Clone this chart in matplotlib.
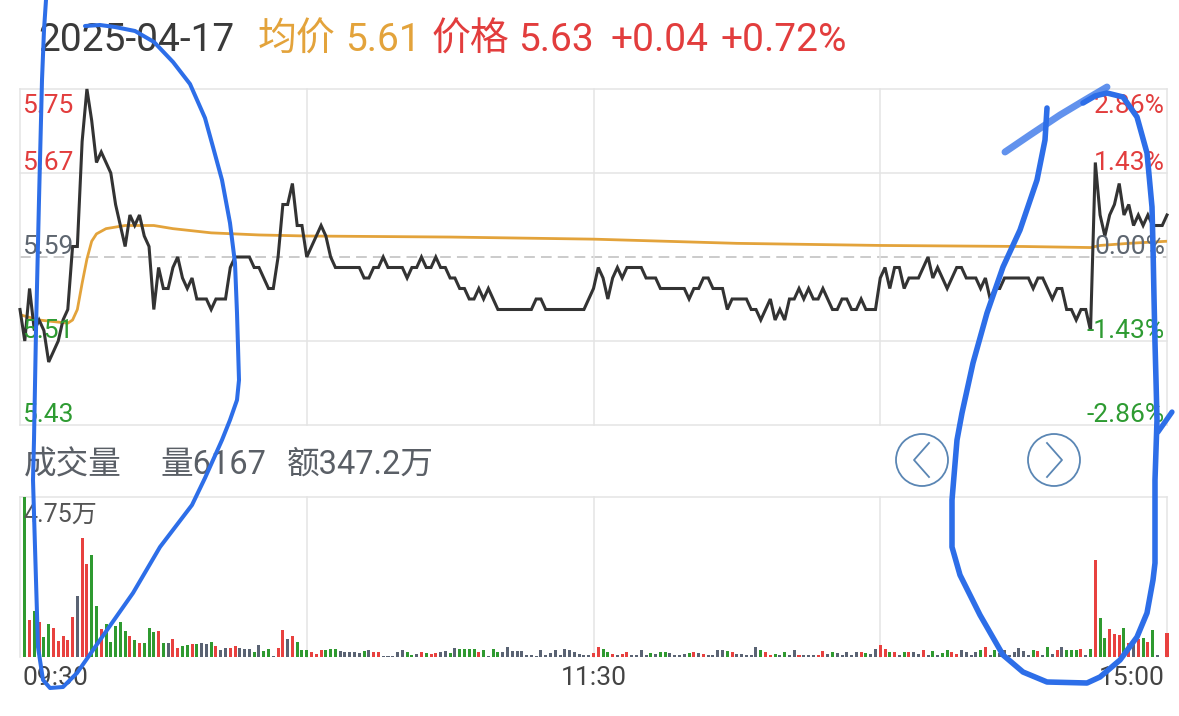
import matplotlib
matplotlib.use('Agg')
import matplotlib.pyplot as plt
from matplotlib.transforms import blended_transform_factory, offset_copy
from matplotlib.patches import Circle

plt.rcParams['font.family'] = ['Roboto', 'Noto Sans CJK SC', 'DejaVu Sans']

# ---------------- data ----------------
prev_close = 5.59
price_levels = [5.75, 5.67, 5.59, 5.51, 5.43]

price = [
    5.54, 5.51, 5.56, 5.52, 5.53, 5.52, 5.49, 5.50, 5.51, 5.53,
    5.54, 5.60, 5.60, 5.70, 5.75, 5.72, 5.68, 5.69, 5.68, 5.67,
    5.64, 5.62, 5.60, 5.63, 5.62, 5.63, 5.61, 5.60, 5.54, 5.58,
    5.56, 5.56, 5.58, 5.59, 5.57, 5.56, 5.57, 5.55, 5.55, 5.55,
    5.54, 5.55, 5.55, 5.55, 5.58, 5.59, 5.59, 5.59, 5.59, 5.58,
    5.58, 5.57, 5.56, 5.56, 5.59, 5.64, 5.64, 5.66, 5.62, 5.62,
    5.59, 5.60, 5.61, 5.62, 5.61, 5.59, 5.58, 5.58, 5.58, 5.58,
    5.58, 5.58, 5.57, 5.57, 5.58, 5.58, 5.59, 5.58, 5.58, 5.58,
    5.58, 5.57, 5.58, 5.58, 5.59, 5.58, 5.58, 5.59, 5.58, 5.58,
    5.57, 5.57, 5.56, 5.56, 5.55, 5.55, 5.56, 5.55, 5.56, 5.55,
    5.54, 5.54, 5.54, 5.54, 5.54, 5.54, 5.54, 5.54, 5.55, 5.55,
    5.54, 5.54, 5.54, 5.54, 5.54, 5.54, 5.54, 5.54, 5.54, 5.55,
    5.56, 5.58, 5.57, 5.55, 5.57, 5.58, 5.57, 5.58, 5.58, 5.58,
    5.58, 5.57, 5.57, 5.57, 5.56, 5.56, 5.56, 5.56, 5.56, 5.56,
    5.55, 5.56, 5.56, 5.57, 5.57, 5.56, 5.56, 5.56, 5.54, 5.55,
    5.55, 5.55, 5.55, 5.54, 5.54, 5.53, 5.54, 5.55, 5.53, 5.54,
    5.53, 5.55, 5.55, 5.56, 5.55, 5.56, 5.55, 5.55, 5.56, 5.55,
    5.54, 5.54, 5.55, 5.55, 5.54, 5.54, 5.55, 5.54, 5.54, 5.54,
    5.57, 5.58, 5.56, 5.58, 5.58, 5.56, 5.57, 5.57, 5.57, 5.58,
    5.59, 5.57, 5.58, 5.57, 5.56, 5.57, 5.58, 5.58, 5.57, 5.57,
    5.57, 5.56, 5.57, 5.55, 5.56, 5.56, 5.57, 5.57, 5.57, 5.57,
    5.57, 5.57, 5.56, 5.57, 5.57, 5.56, 5.55, 5.56, 5.56, 5.54,
    5.54, 5.53, 5.54, 5.54, 5.52, 5.68, 5.63, 5.61, 5.63, 5.64,
    5.66, 5.63, 5.64, 5.62, 5.63, 5.62, 5.63, 5.62, 5.62, 5.62,
    5.63,
]

avg_minutes = [0, 4, 10, 11, 12, 13, 14, 15, 16, 18, 22, 28, 32, 40, 50,
               60, 90, 120, 150, 180, 210, 224, 226, 232, 240]
avg_price = [5.535, 5.530, 5.527, 5.530, 5.540, 5.565, 5.588, 5.605, 5.612,
             5.617, 5.620, 5.620, 5.617, 5.613, 5.611, 5.610, 5.609, 5.607,
             5.603, 5.601, 5.600, 5.599, 5.601, 5.603, 5.605]

volume = [
    47500, 11100, 13600, 10300, 5900, 9800, 8600, 4700, 6300, 4900,
    11800, 18200, 35300, 27600, 30200, 15000, 8400, 9900, 4500, 9100,
    10400, 7600, 6100, 5000, 4200, 4200, 8700, 7500, 7600, 4200,
    4200, 5400, 2700, 3400, 3700, 3900, 3900, 4200, 4000, 4600,
    3200, 2200, 2700, 2700, 3400, 2700, 2400, 2400, 1500, 3700,
    1700, 2500, 400, 2700, 8100, 5400, 6100, 4500, 2200, 2200,
    1600, 800, 2200, 2000, 2500, 2400, 1700, 1500, 1400, 1500,
    1200, 1700, 2000, 1500, 1500, 400, 200, 400, 1500, 2000,
    1500, 700, 1000, 1500, 1200, 1000, 1200, 1400, 1700, 1200,
    2700, 2500, 2400, 2400, 2400, 1500, 2000, 200, 2400, 1500,
    1500, 3000, 1900, 1900, 1700, 700, 700, 300, 2200, 700,
    1200, 2000, 700, 2500, 2000, 1500, 1000, 700, 500, 1100,
    3000, 2500, 1500, 1000, 700, 1000, 1500, 700, 700, 2000,
    700, 1200, 1000, 1500, 1500, 1200, 700, 500, 1000, 1200,
    1500, 1200, 1000, 700, 700, 2000, 2000, 1700, 1500, 1000,
    1000, 500, 700, 3000, 2000, 1500, 700, 1000, 700, 1500,
    700, 2000, 700, 500, 500, 700, 700, 1700, 1000, 1500,
    1200, 500, 1500, 700, 1500, 1500, 1200, 1000, 2500, 3700,
    2500, 1500, 1500, 500, 1500, 1500, 1500, 1000, 2200, 700,
    1700, 700, 1200, 2000, 1500, 1000, 2000, 1500, 700, 1500,
    2000, 2900, 700, 2000, 1200, 2000, 700, 1500, 2700, 1700,
    700, 2000, 1700, 500, 3000, 1000, 2000, 3000, 2200, 2200,
    2200, 2400, 700, 2400, 28900, 11500, 5500, 8300, 6800, 6600,
    8600, 4200, 4400, 5400, 5600, 4400, 7900, 500, 0, 7100,
]
# r = up (red), g = down (green), n = unchanged (grey)
vol_dir = ''.join([
    'grgrggrrrr', 'rnrrggrggg', 'ggrgrgggrg', 'nrrggrgnng', 'rnnrrnnngn',
    'ggnrrnrggg', 'rrrgggnnnn', 'ngnrrnnnnn', 'ggnrgrrnng', 'nggggrgngg',
    'nnnnnnnnnn', 'nnnnnnnnnr', 'rggrnrrnnn', 'ngnggnnnng', 'rnrnnnngrn',
    'nnnngrrgng', 'nnrnnnrrng', 'nnnnnrgnnr', 'rgrngrnnrn', 'gnggrrnnnn',
    'grngnnnnnn', 'ngrngnrngg', 'grngrggrrr', 'grnrgrgnnr',
])

time_ticks = [0, 120, 240]
time_labels = ['09:30', '11:30', '15:00']
grid_minutes = [0, 60, 120, 180, 240]

header_date = '2025-04-17'
avg_now = 5.61
last_price = 5.63
change = 0.04
change_pct = 0.72
vol_title = '成交量'
vol_last = 6167
amount_text = '347.2万'

# hand-drawn pen annotations (figure pixel space)
pen_left = [(85, 26), (100, 25), (115, 27), (135, 31), (154, 42), (173, 62),
            (190, 84), (205, 118), (213, 147), (222, 180), (230, 223),
            (235, 263), (237, 313), (239, 380), (237, 400), (230, 420),
            (222, 440), (205, 478), (192, 505), (160, 547), (133, 593),
            (100, 640), (77, 673), (63, 687), (50, 688), (43, 680),
            (38, 647), (35, 547), (33, 480), (34, 440), (36, 330),
            (39, 200), (42, 80), (44, 30), (46, 0)]
pen_right = [(1083, 103), (1095, 96), (1107, 93), (1123, 97), (1137, 117),
             (1147, 153), (1152, 207), (1153, 247), (1154, 297), (1155, 343),
             (1156, 380), (1157, 420), (1155, 480), (1155, 563), (1153, 580),
             (1147, 613), (1137, 637), (1120, 660), (1100, 677), (1087, 683),
             (1047, 682), (1023, 672), (1003, 655), (980, 615), (960, 575),
             (952, 547), (952, 500), (957, 440), (962, 413), (973, 363),
             (987, 313), (1003, 267), (1020, 230), (1037, 180), (1045, 140),
             (1047, 108)]
pen_dash = [(1005, 152), (1030, 135), (1060, 115), (1085, 100), (1107, 87)]
pen_tick = [(1158, 432), (1172, 412)]

# ---------------- style ----------------
W, H = 1179, 716
RED = '#E23D3D'
GREEN = '#2E9B32'
GREYTXT = '#5E6670'
ORANGE = '#E3A33B'
GRID = '#E4E4E4'
BAR_COL = {'r': '#E8413F', 'g': '#2F9A30', 'n': '#5A6373'}
PEN = '#2D6EE8'

fig = plt.figure(figsize=(W / 100, H / 100), dpi=100)
fig.patch.set_facecolor('white')


def px_rect(x0, y0, x1, y1):
    return [x0 / W, 1 - y1 / H, (x1 - x0) / W, (y1 - y0) / H]


ax_p = fig.add_axes(px_rect(20, 89, 1167, 425))
ax_v = fig.add_axes(px_rect(20, 497, 1167, 657))
for ax in (ax_p, ax_v):
    ax.set_axis_off()
    ax.set_xlim(0, 240)

ax_p.set_ylim(min(price_levels), max(price_levels))
ax_v.set_ylim(0, max(volume))

# grid - price panel
for lv in price_levels:
    if abs(lv - prev_close) < 1e-9:
        ax_p.axhline(lv, color='#BDBDBD', lw=1.1, ls=(0, (7, 4)), zorder=1)
    else:
        ax_p.axhline(lv, color=GRID, lw=1.1, zorder=1, clip_on=False)
for t in grid_minutes:
    ax_p.axvline(t, color=GRID, lw=1.1, zorder=1, clip_on=False)
    ax_v.axvline(t, color=GRID, lw=1.1, zorder=1, clip_on=False)
ax_v.axhline(max(volume), color=GRID, lw=1.1, zorder=1, clip_on=False)

# lines
ax_p.plot(range(len(price)), price, color='#333333', lw=2.2,
          solid_joinstyle='miter', zorder=3, clip_on=False)
ax_p.plot(avg_minutes, avg_price, color=ORANGE, lw=2.0, zorder=2)

# volume bars
xs = list(range(1, len(volume) + 1))
ax_v.bar(xs, volume, width=0.63, color=[BAR_COL[c] for c in vol_dir],
         zorder=2, clip_on=False)

# price labels
bl = blended_transform_factory(ax_p.transAxes, ax_p.transData)
for lv in price_levels:
    col = RED if lv > prev_close + 1e-9 else (GREEN if lv < prev_close - 1e-9 else GREYTXT)
    dy = -24 if lv == max(price_levels) else 3
    pct = (lv - prev_close) / prev_close * 100
    ax_p.text(0, lv, f'{lv:.2f}', color=col, fontsize=19, ha='left', va='baseline',
              transform=offset_copy(bl, fig=fig, x=2, y=dy, units='dots'), zorder=4)
    ax_p.text(1, lv, f'{pct:.2f}%', color=col, fontsize=19, ha='right', va='baseline',
              transform=offset_copy(bl, fig=fig, x=-2, y=dy, units='dots'), zorder=4)

# time labels
blv = blended_transform_factory(ax_v.transData, ax_v.transAxes)
for t, lab in zip(time_ticks, time_labels):
    ha = 'left' if t == time_ticks[0] else ('right' if t == time_ticks[-1] else 'center')
    dx = 2 if ha == 'left' else (-2 if ha == 'right' else 0)
    ax_v.text(t, 0, lab, color='#444444', fontsize=19, ha=ha, va='baseline',
              transform=offset_copy(blv, fig=fig, x=dx, y=-28, units='dots'))

# max volume label
ax_v.text(0, 1, f'{max(volume) / 1e4:.2f}万', color='#555555', fontsize=18,
          ha='left', va='baseline',
          transform=offset_copy(ax_v.transAxes, fig=fig, x=3, y=-25, units='dots'),
          zorder=4)

# overlay (pixel coordinates) for header, buttons, pen strokes
ov = fig.add_axes([0, 0, 1, 1])
ov.set_xlim(0, W)
ov.set_ylim(H, 0)
ov.set_axis_off()
ov.patch.set_alpha(0)

hdr_y = 51
hdr = [
    (38, header_date, '#3A3A3A'),
    (258, '均价', ORANGE),
    (345, f'{avg_now:.2f}', ORANGE),
    (432, '价格', RED),
    (518, f'{last_price:.2f}', RED),
    (610, f'+{change:.2f}', RED),
    (720, f'+{change_pct:.2f}%', RED),
]
for x, s, c in hdr:
    ov.text(x, hdr_y, s, color=c, fontsize=28, ha='left', va='baseline')

vh_y = 474
ov.text(24, vh_y, vol_title, color='#5A5F66', fontsize=23.5, ha='left', va='baseline')
ov.text(160, vh_y, f'量{vol_last}', color='#5A5F66', fontsize=23.5, ha='left', va='baseline')
ov.text(287, vh_y, f'额{amount_text}', color='#5A5F66', fontsize=23.5, ha='left', va='baseline')

# nav buttons
BTN = '#5A86B4'
for cx, sign in ((922, -1), (1054, 1)):
    ov.add_patch(Circle((cx, 460), 26, fill=False, ec=BTN, lw=1.3))
    ov.plot([cx - sign * 7, cx + sign * 8, cx - sign * 7], [443, 460, 477],
            color=BTN, lw=1.3)

# pen strokes
def stroke(pts, **kw):
    ov.plot([p[0] for p in pts], [p[1] for p in pts], solid_capstyle='round',
            solid_joinstyle='round', **kw)


stroke(pen_left, color=PEN, lw=2.9, zorder=10)
stroke(pen_right, color=PEN, lw=4.0, zorder=10)
stroke(pen_dash, color=PEN, lw=5.0, alpha=0.75, zorder=10)
stroke(pen_tick, color=PEN, lw=3.8, zorder=10)

fig.savefig('out.png', dpi=100, facecolor='white')
